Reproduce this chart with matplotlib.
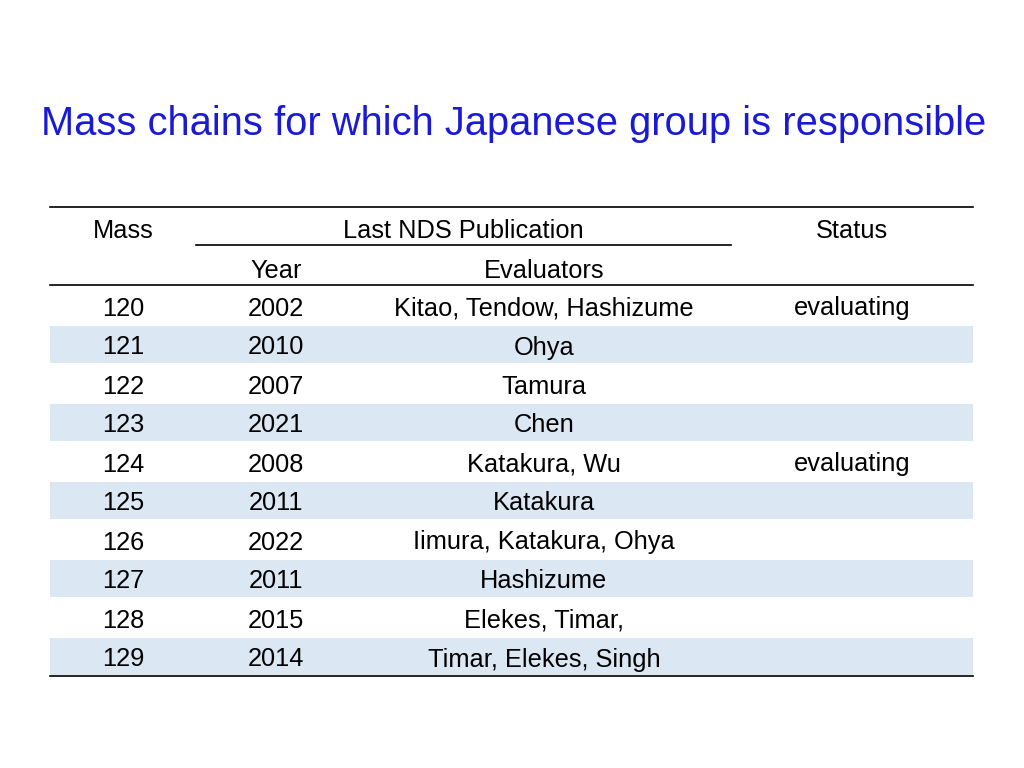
import matplotlib
matplotlib.use("Agg")
import matplotlib.pyplot as plt

masses = ["120","121","122","123","124","125","126","127","128","129"]
years = ["2002","2010","2007","2021","2008","2011","2022","2011","2015","2014"]
evaluators = ["Kitao, Tendow, Hashizume","Ohya","Tamura","Chen","Katakura, Wu",
              "Katakura","Iimura, Katakura, Ohya","Hashizume","Elekes, Timar,","Timar, Elekes, Singh"]
status = ["evaluating","","","","evaluating","","","","",""]

plt.rcParams["font.family"] = "Liberation Sans"
fig = plt.figure(figsize=(10.24, 7.68), dpi=100)
ax = fig.add_axes([0, 0, 1, 1])
ax.set_xlim(0, 1024); ax.set_ylim(768, 0); ax.axis("off")

ax.text(514, 124, "Mass chains for which Japanese group is responsible", color="#1a1ad6",
        fontsize=28.7, ha="center", va="center")

fs = 18.3
va = "center_baseline"
cols = [123, 276, 544, 852]
ax.plot([50, 973], [207, 207], color="black", lw=1.2)
ax.text(cols[0], 229, "Mass", fontsize=fs, ha="center", va=va)
ax.text(463, 229, "Last NDS Publication", fontsize=fs, ha="center", va=va)
ax.text(cols[3], 229, "Status", fontsize=fs, ha="center", va=va)
ax.plot([196, 731], [245, 245], color="black", lw=1.2)
ax.text(cols[1], 268, "Year", fontsize=fs, ha="center", va=va)
ax.text(cols[2], 268, "Evaluators", fontsize=fs, ha="center", va=va)
ax.plot([50, 973], [285, 285], color="black", lw=1.2)

rh = 39
for i in range(len(masses)):
    y = 305 + rh * i
    if i % 2 == 1:
        ax.add_patch(plt.Rectangle((50, y - rh / 2 + 1), 923, rh - 2, color="#dce7f4", lw=0))
    for x, t in zip(cols, [masses[i], years[i], evaluators[i], status[i]]):
        ax.text(x, y + 1, t, fontsize=fs, ha="center", va=va)
ax.plot([50, 973], [676, 676], color="black", lw=1.2)

fig.savefig("out.png", dpi=100)
